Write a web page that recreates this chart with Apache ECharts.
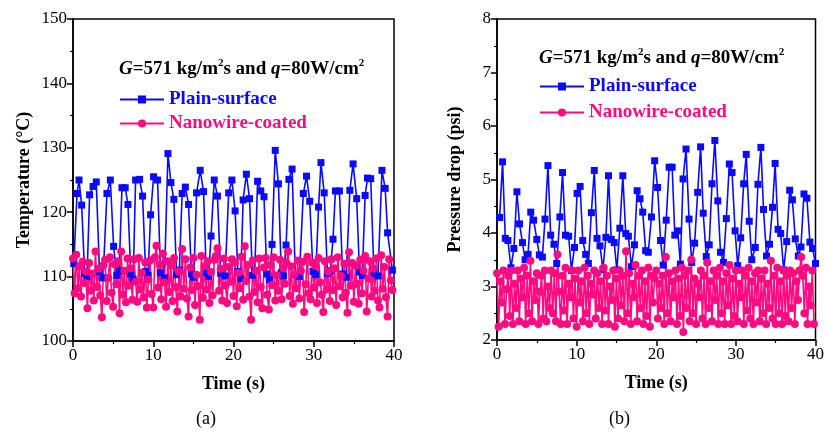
<!DOCTYPE html>
<html>
<head>
<meta charset="utf-8">
<script src="https://cdn.jsdelivr.net/npm/echarts@6/dist/echarts.min.js"></script>
<style>
  html, body { margin: 0; padding: 0; background: #fff; }
  #chart { width: 827px; height: 434px; }
</style>
</head>
<body>
<div id="chart"></div>
<script>
// (a) temperature, plain surface
const timePlainA = [0.1, 0.5, 0.75, 1.08, 1.45, 1.75, 2.07, 2.5, 2.9, 3.3, 3.75, 4.23, 4.65, 5.06, 5.45, 5.75,
  6.1, 6.5, 6.85, 7.2, 7.5, 7.8, 8.3, 8.67, 9.05, 9.35, 9.67, 10.04, 10.54, 10.9, 11.4, 11.83, 12.2, 12.57,
  12.9, 13.25, 13.6, 14.0, 14.4, 14.75, 15.05, 15.4, 15.85, 16.27, 16.6, 16.9, 17.2, 17.6, 18.0, 18.4, 18.95,
  19.4, 19.8, 20.2, 20.55, 20.9, 21.2, 21.6, 22.0, 22.35, 22.65, 23.0, 23.4, 23.8, 24.15, 24.5, 24.8, 25.2,
  25.6, 25.95, 26.25, 26.55, 26.9, 27.3, 27.7, 28.2, 28.7, 29.1, 29.5, 29.9, 30.25, 30.6, 30.9, 31.3, 31.7,
  32.05, 32.4, 32.7, 33.2, 33.6, 34.05, 34.5, 34.9, 35.35, 35.7, 36.05, 36.4, 36.7, 37.1, 37.5, 38.0, 38.5,
  38.9, 39.2, 39.8];
const tempPlain = [112, 122.9, 125, 121.1, 110.5, 110, 122.7, 124, 124.7, 110.8, 109.8, 122.9, 125, 114.7, 110.2, 110.9,
  123.8, 123.8, 121.2, 110.4, 109.6, 125, 125.1, 122.5, 110.8, 110.2, 119.6, 125.5, 125, 110.6, 109.8, 129.1, 124.6, 122,
  110.3, 111, 122.9, 123.9, 121.2, 110.4, 109.9, 123, 126.5, 123.2, 110.6, 110, 116.3, 125, 122.5, 110.5, 110.1,
  123, 125, 120.2, 110.8, 109.7, 121.9, 125.9, 122.1, 110.2, 110.9, 124.8, 123.3, 122.4, 110.4, 109.5, 115, 129.6,
  124.4, 110.6, 110.1, 114.9, 125.1, 126.7, 110.3, 110, 122.9, 125.6, 121.7, 110.8, 110.3, 120.8, 127.7, 123, 110.5,
  110.9, 115.8, 123.3, 123.3, 110.4, 109.9, 123.4, 127.5, 122.1, 110.7, 110.2, 122.6, 125.3, 125.2, 110.5, 110.1, 126.5,
  123.7, 116.8, 111];

// (a) temperature, nanowire coated, sampled every 0.2 s
const nanoStep = 0.2;
const tempNano = [
  112.8, 107.4, 113.4, 108.2, 111.6, 106.9, 112.3, 109.0, 110.8, 105.1,
  112.1, 107.8, 110.5, 106.3, 113.9, 108.4, 111.2, 107.1, 103.7, 111.8,
  112.6, 106.2, 109.8, 113.0, 107.5, 105.3, 111.9, 108.8, 112.4, 104.3,
  113.9, 107.2, 110.9, 106.0, 112.8, 108.6, 111.3, 106.4, 112.7, 109.2,
  106.1, 112.9, 108.0, 110.6, 106.8, 112.2, 105.2, 109.5, 112.5, 107.3,
  105.2, 113.0, 114.8, 108.3, 111.9, 106.5, 113.6, 109.1, 105.3, 112.4,
  107.6, 111.7, 106.2, 112.9, 108.4, 104.6, 110.8, 106.9, 114.3, 108.1,
  112.7, 106.6, 103.8, 111.4, 107.9, 112.9, 105.6, 110.3, 108.5, 103.3,
  113.2, 106.7, 111.6, 108.0, 112.4, 105.9, 110.7, 107.1, 112.6, 113.2,
  114.4, 107.8, 111.2, 106.3, 112.8, 108.6, 105.9, 111.5, 109.2, 112.7,
  107.0, 112.2, 105.4, 110.6, 108.2, 113.1, 106.4, 114.7, 109.3, 111.8,
  106.9, 103.3, 112.5, 107.6, 110.9, 106.0, 112.8, 108.4, 105.1, 111.4,
  112.9, 107.2, 104.9, 111.8, 108.7, 113.0, 106.3, 110.2, 107.8, 112.6,
  106.5, 111.3, 108.9, 112.1, 113.9, 107.0, 111.6, 105.8, 110.4, 108.2,
  112.5, 106.6, 110.9, 112.3, 104.5, 108.8, 113.1, 107.4, 106.5, 112.2,
  108.3, 111.7, 105.9, 112.9, 109.1, 107.2, 104.5, 112.4, 108.0, 110.8,
  106.2, 112.7, 107.9, 111.3, 105.6, 113.0, 108.5, 110.1, 106.8, 112.0,
  107.5, 104.4, 113.8, 108.6, 112.1, 106.1, 111.7, 108.9, 105.8, 112.6,
  107.4, 110.9, 113.2, 104.6, 109.7, 112.4, 106.9, 111.2, 107.8, 112.8,
  106.3, 105.2, 113.3, 108.1, 111.5, 106.8, 103.8, 112.7, 109.4, 107.9];

// (b) pressure drop, plain surface
const timePlainB = [0.33, 0.7, 1.04, 1.37, 1.75, 2.12, 2.5, 2.83, 3.2, 3.53, 3.9, 4.24, 4.6, 5.0, 5.32, 5.7,
  6.03, 6.4, 6.74, 7.15, 7.5, 7.9, 8.23, 8.6, 9.0, 9.35, 9.73, 10.06, 10.44, 10.77, 11.14, 11.48, 11.85,
  12.22, 12.56, 12.93, 13.3, 13.68, 14.0, 14.35, 14.72, 15.05, 15.43, 15.8, 16.17, 16.5, 16.88, 17.26,
  17.6, 17.96, 18.3, 18.67, 19.0, 19.4, 19.8, 20.17, 20.54, 20.87, 21.25, 21.62, 22.0, 22.33, 22.7, 23.03,
  23.37, 23.74, 24.12, 24.45, 24.82, 25.2, 25.57, 25.9, 26.28, 26.65, 27.0, 27.36, 27.73, 28.07, 28.44,
  28.8, 29.18, 29.52, 29.9, 30.23, 30.6, 30.98, 31.3, 31.68, 32.0, 32.43, 32.77, 33.14, 33.47, 33.85,
  34.22, 34.6, 34.93, 35.3, 35.63, 36.0, 36.38, 36.76, 37.1, 37.46, 37.84, 38.17, 38.55, 38.92, 39.3,
  39.63, 40];
const pressPlain = [4.29, 5.33, 3.9, 3.86, 3.35, 3.71, 4.77, 4.17, 3.82, 3.5, 3.6, 4.39, 4.24, 3.88, 3.59, 3.55,
  4.26, 5.26, 3.96, 3.79, 3.43, 4.3, 5.13, 3.96, 3.94, 3.3, 3.73, 4.74, 4.87, 3.86, 3.6, 3.43, 4.38,
  5.17, 3.9, 3.76, 3.32, 3.92, 5.07, 3.88, 3.82, 3.31, 4.09, 5.07, 3.99, 3.94, 3.37, 3.78,
  4.79, 4.64, 4.39, 3.67, 3.64, 4.3, 5.35, 4.85, 3.86, 3.4, 4.24, 5.23, 5.23, 3.96, 4.04, 3.42,
  5.01, 5.57, 4.26, 3.45, 3.81, 4.76, 5.61, 4.37, 3.56, 3.78, 4.92, 5.73, 4.6, 3.64, 3.45,
  4.27, 5.29, 5.13, 4.04, 3.39, 3.91, 4.92, 5.47, 4.22, 3.5, 3.73, 4.91, 5.6, 4.44, 3.57,
  3.79, 4.48, 5.3, 4.07, 3.99, 3.31, 3.84, 4.8, 4.62, 3.89, 3.57, 3.74, 4.73, 4.65, 3.83,
  3.71, 3.43];

// (b) pressure drop, nanowire coated, sampled every 0.2 s
const pressNano = [
  3.25, 2.25, 3.1, 2.7, 3.3, 2.3, 2.95, 3.2, 2.45, 3.3,
  2.3, 3.05, 2.6, 3.3, 2.35, 3.15, 2.8, 3.35, 2.3, 3.2,
  2.5, 3.48, 2.35, 3.1, 2.75, 3.25, 2.3, 2.9, 3.2, 2.4,
  3.3, 2.35, 3.0, 2.6, 3.3, 2.5, 3.25, 2.35, 3.6, 2.9,
  2.3, 3.2, 2.55, 3.35, 2.3, 3.05, 2.8, 3.3, 2.4, 3.15,
  2.25, 3.3, 2.7, 3.1, 2.35, 3.35, 2.5, 3.2, 2.3, 3.05,
  2.85, 3.3, 2.4, 3.25, 2.6, 3.1, 2.3, 3.35, 2.55, 3.2,
  2.3, 3.0, 2.75, 3.3, 2.25, 3.15, 2.4, 3.3, 2.65, 3.2,
  2.35, 3.66, 2.5, 3.25, 2.3, 3.05, 2.8, 3.4, 2.35, 3.2,
  2.6, 3.3, 2.3, 3.1, 2.45, 3.35, 2.25, 3.2, 2.7, 3.15,
  3.3, 2.4, 3.05, 2.6, 3.2, 2.3, 3.55, 2.5, 3.25, 2.35,
  3.1, 2.8, 3.3, 2.3, 3.15, 2.45, 3.35, 2.15, 3.2, 2.6,
  3.3, 2.35, 3.5, 2.5, 3.15, 2.3, 3.05, 2.8, 3.3, 2.4,
  3.2, 2.3, 3.45, 2.6, 3.1, 2.35, 3.3, 2.75, 3.2, 2.3,
  3.35, 2.5, 3.1, 2.3, 3.25, 2.65, 3.4, 2.3, 3.15, 2.45,
  3.3, 2.35, 3.05, 2.8, 3.3, 2.3, 3.2, 2.55, 3.35, 2.4,
  3.1, 2.3, 3.25, 2.7, 3.3, 2.35, 3.15, 2.5, 3.3, 2.3,
  3.05, 2.6, 3.48, 2.4, 3.2, 2.3, 3.35, 2.5, 3.1, 2.3,
  3.3, 2.45, 3.2, 2.35, 3.3, 2.6, 3.25, 2.3, 3.1, 2.75,
  3.3, 3.55, 3.2, 2.5, 3.35, 2.3, 3.0, 2.65, 3.3, 2.3];

const blue = '#0a0aff';
const pink = '#ff0a80';
const serif = '"Liberation Serif", "Times New Roman", serif';

function pairs(xs, ys) { return ys.map((v, i) => [xs[i], v]); }
function stepped(ys, step) { return ys.map((v, i) => [+(i * step).toFixed(2), v]); }

function xAxisFor(grid) {
  return {
    type: 'value', gridIndex: grid, min: 0, max: 40, interval: 10,
    name: 'Time (s)', nameLocation: 'middle', nameGap: 34,
    nameTextStyle: { fontFamily: serif, fontWeight: 'bold', fontSize: 18, color: '#000' },
    axisLine: { lineStyle: { color: '#000', width: 1.5 } },
    axisTick: { length: 6, lineStyle: { width: 1.5 } },
    minorTick: { show: true, splitNumber: 2, length: 3, lineStyle: { color: '#000', width: 1.2 } },
    splitLine: { show: false },
    axisLabel: { fontFamily: serif, fontSize: 17, color: '#000', margin: 6 }
  };
}
function yAxisFor(grid, min, max, interval, name, gap) {
  return {
    type: 'value', gridIndex: grid, min: min, max: max, interval: interval,
    name: name, nameLocation: 'middle', nameGap: gap,
    nameTextStyle: { fontFamily: serif, fontWeight: 'bold', fontSize: 18, color: '#000' },
    axisLine: { show: true, lineStyle: { color: '#000', width: 1.5 } },
    axisTick: { show: true, length: 6, lineStyle: { width: 1.5 } },
    minorTick: { show: true, splitNumber: 2, length: 3, lineStyle: { color: '#000', width: 1.2 } },
    splitLine: { show: false },
    axisLabel: { fontFamily: serif, fontSize: 17, color: '#000', margin: 6 }
  };
}
function header(left, top) {
  const n = { fontFamily: serif, fontWeight: 'bold', fontSize: 19, color: '#000', lineHeight: 22 };
  return {
    type: 'text', left: left, top: top,
    style: {
      text: '{i|G}{n|=571 kg/m}{s|2}{n|s and }{i|q}{n|=80W/cm}{s|2}',
      rich: {
        n: n,
        i: Object.assign({}, n, { fontStyle: 'italic' }),
        s: Object.assign({}, n, { fontSize: 11, lineHeight: 22, verticalAlign: 'top' })
      }
    }
  };
}
function legendFor(left, top, gap) {
  return {
    left: left, top: top, orient: 'vertical', itemGap: gap, itemWidth: 44, itemHeight: 10,
    selectedMode: false, textStyle: { fontFamily: serif, fontWeight: 'bold', fontSize: 19 },
    data: [
      { name: 'Plain-surface', textStyle: { color: blue } },
      { name: 'Nanowire-coated', textStyle: { color: pink } }
    ]
  };
}
function plainSeries(axis, data) {
  return {
    name: 'Plain-surface', type: 'line', xAxisIndex: axis, yAxisIndex: axis, data: data,
    symbol: 'rect', symbolSize: 7, lineStyle: { color: blue, width: 1.6 }, itemStyle: { color: blue }
  };
}
function nanoSeries(axis, data) {
  return {
    name: 'Nanowire-coated', type: 'line', xAxisIndex: axis, yAxisIndex: axis, data: data,
    symbol: 'circle', symbolSize: 8, lineStyle: { color: pink, width: 1.6 }, itemStyle: { color: pink }
  };
}

const chart = echarts.init(document.getElementById('chart'), null, { renderer: 'canvas' });
chart.setOption({
  backgroundColor: '#fff',
  animation: false,
  grid: [
    { left: 73, right: 433, top: 19, bottom: 93, show: true, borderColor: '#000', borderWidth: 1.5, backgroundColor: 'transparent' },
    { left: 497, right: 10, top: 19, bottom: 94, show: true, borderColor: '#000', borderWidth: 1.5, backgroundColor: 'transparent' }
  ],
  xAxis: [xAxisFor(0), xAxisFor(1)],
  yAxis: [
    yAxisFor(0, 100, 150, 10, 'Temperature (°C)', 40),
    yAxisFor(1, 2, 8, 1, 'Pressure drop (psi)', 33)
  ],
  legend: [legendFor(114, 85, 5), legendFor(534, 72, 7)],
  graphic: [
    header(119, 58),
    header(539, 47),
    { type: 'text', left: 196, top: 410, style: { text: '(a)', fontFamily: serif, fontSize: 18, fill: '#000' } },
    { type: 'text', left: 609, top: 410, style: { text: '(b)', fontFamily: serif, fontSize: 18, fill: '#000' } }
  ],
  series: [
    plainSeries(0, pairs(timePlainA, tempPlain)),
    nanoSeries(0, stepped(tempNano, nanoStep)),
    plainSeries(1, pairs(timePlainB, pressPlain)),
    nanoSeries(1, stepped(pressNano, nanoStep))
  ]
});
window.addEventListener('resize', function () { chart.resize(); });
</script>
</body>
</html>
